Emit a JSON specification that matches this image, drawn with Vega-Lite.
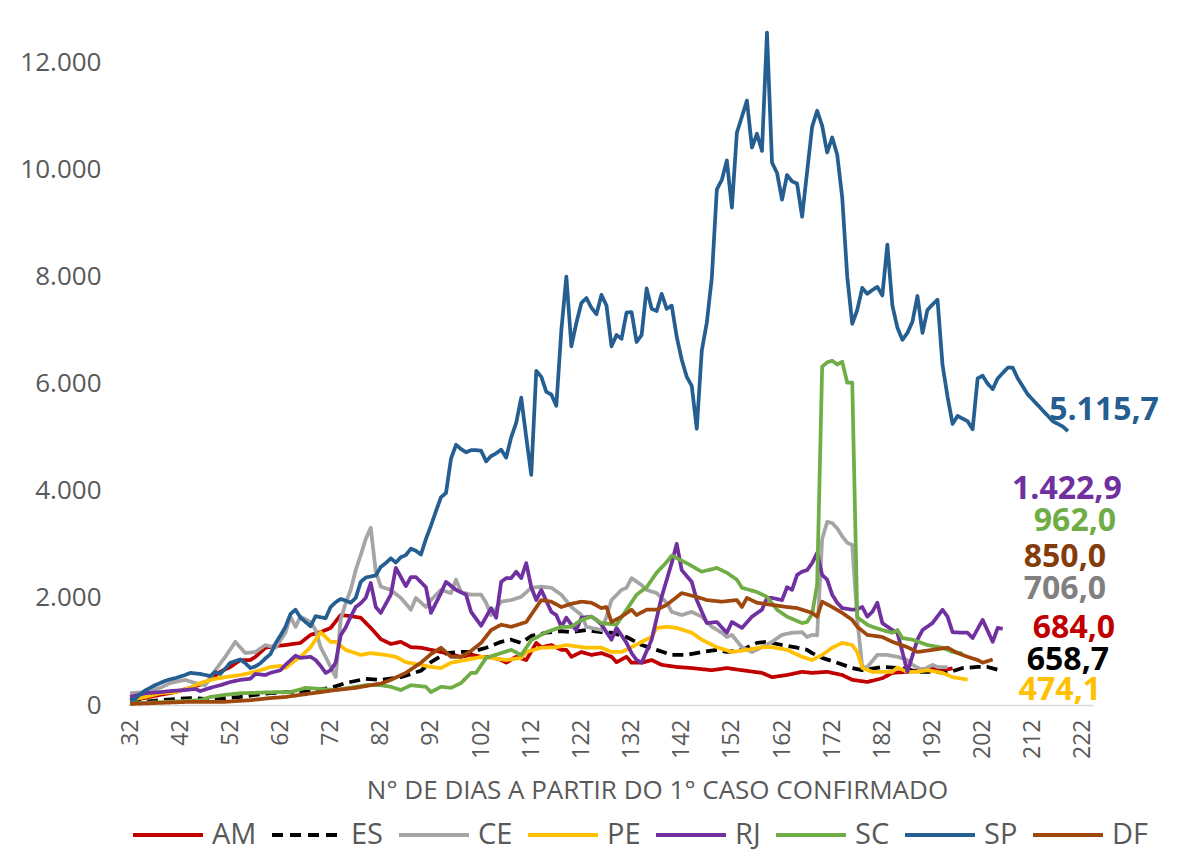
{
"$schema": "https://vega.github.io/schema/vega-lite/v6.json",
"width": 965, "height": 696,
"autosize": {"type": "none"},
"padding": {"left": 128, "top": 9, "right": 93, "bottom": 146},
"background": "white",
"config": {
 "view": {"stroke": null},
 "font": "Open Sans",
 "locale": {"number": {"decimal": ",", "thousands": ".", "grouping": [3], "currency": ["R$", ""]}},
 "legend": {"orient": "none", "legendX": 3, "legendY": 789, "direction": "horizontal", "gridAlign": "none", "symbolType": "stroke", "symbolSize": 4900, "symbolStrokeWidth": 4, "labelFontSize": 29, "labelColor": "#595959", "labelFont": "Open Sans", "labelOffset": 7, "columnPadding": 7, "padding": 0}
},
"datasets": {
"series": [
{"s":"AM","d":32,"v":90},{"s":"AM","d":35,"v":130},{"s":"AM","d":38,"v":190},{"s":"AM","d":41,"v":240},{"s":"AM","d":44,"v":320},{"s":"AM","d":47,"v":410},{"s":"AM","d":50,"v":620},{"s":"AM","d":52,"v":710},{"s":"AM","d":54,"v":840},{"s":"AM","d":56,"v":840},{"s":"AM","d":57,"v":900},{"s":"AM","d":59,"v":1070},{"s":"AM","d":61,"v":1100},{"s":"AM","d":63,"v":1120},{"s":"AM","d":66,"v":1160},{"s":"AM","d":68,"v":1310},{"s":"AM","d":70,"v":1360},{"s":"AM","d":72,"v":1440},{"s":"AM","d":74,"v":1680},{"s":"AM","d":76,"v":1660},{"s":"AM","d":78,"v":1630},{"s":"AM","d":80,"v":1440},{"s":"AM","d":82,"v":1230},{"s":"AM","d":84,"v":1140},{"s":"AM","d":86,"v":1180},{"s":"AM","d":88,"v":1080},{"s":"AM","d":90,"v":1070},{"s":"AM","d":92,"v":1030},{"s":"AM","d":95,"v":970},{"s":"AM","d":98,"v":900},{"s":"AM","d":100,"v":940},{"s":"AM","d":102,"v":900},{"s":"AM","d":104,"v":900},{"s":"AM","d":106,"v":840},{"s":"AM","d":107,"v":790},{"s":"AM","d":109,"v":900},{"s":"AM","d":111,"v":840},{"s":"AM","d":113,"v":1160},{"s":"AM","d":114,"v":1080},{"s":"AM","d":116,"v":1120},{"s":"AM","d":118,"v":1030},{"s":"AM","d":119,"v":1030},{"s":"AM","d":120,"v":900},{"s":"AM","d":122,"v":990},{"s":"AM","d":124,"v":935},{"s":"AM","d":126,"v":970},{"s":"AM","d":128,"v":900},{"s":"AM","d":129,"v":800},{"s":"AM","d":131,"v":900},{"s":"AM","d":132,"v":790},{"s":"AM","d":134,"v":790},{"s":"AM","d":136,"v":840},{"s":"AM","d":138,"v":750},{"s":"AM","d":141,"v":710},{"s":"AM","d":144,"v":690},{"s":"AM","d":148,"v":650},{"s":"AM","d":151,"v":690},{"s":"AM","d":154,"v":650},{"s":"AM","d":158,"v":600},{"s":"AM","d":160,"v":520},{"s":"AM","d":163,"v":560},{"s":"AM","d":166,"v":620},{"s":"AM","d":168,"v":600},{"s":"AM","d":171,"v":620},{"s":"AM","d":174,"v":560},{"s":"AM","d":176,"v":470},{"s":"AM","d":179,"v":430},{"s":"AM","d":182,"v":500},{"s":"AM","d":184,"v":600},{"s":"AM","d":187,"v":620},{"s":"AM","d":189,"v":650},{"s":"AM","d":192,"v":690},{"s":"AM","d":194,"v":650},{"s":"AM","d":196,"v":684},
{"s":"ES","d":32,"v":56},{"s":"ES","d":35,"v":60},{"s":"ES","d":38,"v":90},{"s":"ES","d":41,"v":110},{"s":"ES","d":44,"v":130},{"s":"ES","d":48,"v":110},{"s":"ES","d":51,"v":130},{"s":"ES","d":54,"v":150},{"s":"ES","d":57,"v":190},{"s":"ES","d":60,"v":220},{"s":"ES","d":63,"v":240},{"s":"ES","d":66,"v":240},{"s":"ES","d":69,"v":280},{"s":"ES","d":72,"v":320},{"s":"ES","d":75,"v":410},{"s":"ES","d":79,"v":490},{"s":"ES","d":82,"v":470},{"s":"ES","d":86,"v":520},{"s":"ES","d":90,"v":640},{"s":"ES","d":92,"v":800},{"s":"ES","d":95,"v":970},{"s":"ES","d":98,"v":990},{"s":"ES","d":100,"v":990},{"s":"ES","d":103,"v":1070},{"s":"ES","d":106,"v":1180},{"s":"ES","d":108,"v":1220},{"s":"ES","d":110,"v":1160},{"s":"ES","d":112,"v":1290},{"s":"ES","d":115,"v":1350},{"s":"ES","d":118,"v":1380},{"s":"ES","d":120,"v":1360},{"s":"ES","d":123,"v":1400},{"s":"ES","d":126,"v":1360},{"s":"ES","d":128,"v":1350},{"s":"ES","d":131,"v":1270},{"s":"ES","d":134,"v":1120},{"s":"ES","d":137,"v":1030},{"s":"ES","d":140,"v":935},{"s":"ES","d":143,"v":935},{"s":"ES","d":146,"v":990},{"s":"ES","d":149,"v":1030},{"s":"ES","d":151,"v":990},{"s":"ES","d":154,"v":1030},{"s":"ES","d":157,"v":1160},{"s":"ES","d":159,"v":1180},{"s":"ES","d":162,"v":1120},{"s":"ES","d":165,"v":1070},{"s":"ES","d":167,"v":1030},{"s":"ES","d":168,"v":970},{"s":"ES","d":170,"v":880},{"s":"ES","d":173,"v":790},{"s":"ES","d":176,"v":690},{"s":"ES","d":178,"v":650},{"s":"ES","d":182,"v":710},{"s":"ES","d":186,"v":690},{"s":"ES","d":189,"v":620},{"s":"ES","d":192,"v":620},{"s":"ES","d":195,"v":600},{"s":"ES","d":198,"v":690},{"s":"ES","d":201,"v":710},{"s":"ES","d":203,"v":710},{"s":"ES","d":205,"v":659},
{"s":"CE","d":32,"v":220},{"s":"CE","d":35,"v":240},{"s":"CE","d":38,"v":320},{"s":"CE","d":40,"v":410},{"s":"CE","d":43,"v":470},{"s":"CE","d":45,"v":410},{"s":"CE","d":47,"v":370},{"s":"CE","d":49,"v":650},{"s":"CE","d":51,"v":900},{"s":"CE","d":53,"v":1180},{"s":"CE","d":55,"v":970},{"s":"CE","d":57,"v":990},{"s":"CE","d":59,"v":1120},{"s":"CE","d":61,"v":1070},{"s":"CE","d":63,"v":1350},{"s":"CE","d":64,"v":1650},{"s":"CE","d":65,"v":1460},{"s":"CE","d":66,"v":1650},{"s":"CE","d":68,"v":1550},{"s":"CE","d":69,"v":1400},{"s":"CE","d":70,"v":1080},{"s":"CE","d":71,"v":900},{"s":"CE","d":72,"v":710},{"s":"CE","d":73,"v":520},{"s":"CE","d":74,"v":1600},{"s":"CE","d":75,"v":1900},{"s":"CE","d":76,"v":2150},{"s":"CE","d":77,"v":2520},{"s":"CE","d":78,"v":2800},{"s":"CE","d":79,"v":3100},{"s":"CE","d":80,"v":3310},{"s":"CE","d":81,"v":2490},{"s":"CE","d":82,"v":2210},{"s":"CE","d":84,"v":2150},{"s":"CE","d":86,"v":2000},{"s":"CE","d":88,"v":1780},{"s":"CE","d":89,"v":2000},{"s":"CE","d":91,"v":1830},{"s":"CE","d":92,"v":1960},{"s":"CE","d":94,"v":2150},{"s":"CE","d":96,"v":2090},{"s":"CE","d":97,"v":2340},{"s":"CE","d":98,"v":2110},{"s":"CE","d":100,"v":2060},{"s":"CE","d":102,"v":2060},{"s":"CE","d":103,"v":1910},{"s":"CE","d":104,"v":1680},{"s":"CE","d":106,"v":1930},{"s":"CE","d":108,"v":1960},{"s":"CE","d":110,"v":2020},{"s":"CE","d":112,"v":2190},{"s":"CE","d":114,"v":2210},{"s":"CE","d":116,"v":2190},{"s":"CE","d":118,"v":2060},{"s":"CE","d":120,"v":1830},{"s":"CE","d":122,"v":1680},{"s":"CE","d":123,"v":1460},{"s":"CE","d":126,"v":1400},{"s":"CE","d":127,"v":1650},{"s":"CE","d":128,"v":1960},{"s":"CE","d":130,"v":2150},{"s":"CE","d":131,"v":2190},{"s":"CE","d":132,"v":2370},{"s":"CE","d":134,"v":2240},{"s":"CE","d":135,"v":2150},{"s":"CE","d":137,"v":2090},{"s":"CE","d":139,"v":1910},{"s":"CE","d":140,"v":1740},{"s":"CE","d":142,"v":1680},{"s":"CE","d":144,"v":1740},{"s":"CE","d":146,"v":1650},{"s":"CE","d":148,"v":1460},{"s":"CE","d":150,"v":1350},{"s":"CE","d":151,"v":1270},{"s":"CE","d":152,"v":1310},{"s":"CE","d":154,"v":1080},{"s":"CE","d":156,"v":990},{"s":"CE","d":158,"v":1080},{"s":"CE","d":160,"v":1180},{"s":"CE","d":162,"v":1310},{"s":"CE","d":164,"v":1350},{"s":"CE","d":166,"v":1360},{"s":"CE","d":167,"v":1270},{"s":"CE","d":168,"v":1310},{"s":"CE","d":169,"v":1300},{"s":"CE","d":170,"v":3100},{"s":"CE","d":171,"v":3420},{"s":"CE","d":172,"v":3400},{"s":"CE","d":173,"v":3300},{"s":"CE","d":174,"v":3150},{"s":"CE","d":175,"v":3030},{"s":"CE","d":176,"v":2990},{"s":"CE","d":177,"v":1600},{"s":"CE","d":178,"v":700},{"s":"CE","d":179,"v":710},{"s":"CE","d":181,"v":935},{"s":"CE","d":183,"v":935},{"s":"CE","d":185,"v":900},{"s":"CE","d":187,"v":840},{"s":"CE","d":188,"v":750},{"s":"CE","d":190,"v":650},{"s":"CE","d":192,"v":750},{"s":"CE","d":193,"v":710},{"s":"CE","d":195,"v":706},
{"s":"PE","d":32,"v":90},{"s":"PE","d":35,"v":150},{"s":"PE","d":38,"v":220},{"s":"PE","d":41,"v":240},{"s":"PE","d":44,"v":320},{"s":"PE","d":46,"v":410},{"s":"PE","d":49,"v":490},{"s":"PE","d":51,"v":520},{"s":"PE","d":54,"v":560},{"s":"PE","d":56,"v":600},{"s":"PE","d":58,"v":650},{"s":"PE","d":60,"v":710},{"s":"PE","d":62,"v":730},{"s":"PE","d":63,"v":690},{"s":"PE","d":65,"v":840},{"s":"PE","d":66,"v":900},{"s":"PE","d":68,"v":1080},{"s":"PE","d":70,"v":1360},{"s":"PE","d":72,"v":1180},{"s":"PE","d":73,"v":1180},{"s":"PE","d":75,"v":1030},{"s":"PE","d":78,"v":935},{"s":"PE","d":80,"v":970},{"s":"PE","d":83,"v":935},{"s":"PE","d":85,"v":900},{"s":"PE","d":87,"v":800},{"s":"PE","d":90,"v":750},{"s":"PE","d":92,"v":710},{"s":"PE","d":94,"v":690},{"s":"PE","d":96,"v":790},{"s":"PE","d":100,"v":860},{"s":"PE","d":102,"v":900},{"s":"PE","d":104,"v":880},{"s":"PE","d":107,"v":840},{"s":"PE","d":110,"v":880},{"s":"PE","d":111,"v":990},{"s":"PE","d":114,"v":1070},{"s":"PE","d":117,"v":1080},{"s":"PE","d":119,"v":1120},{"s":"PE","d":123,"v":1070},{"s":"PE","d":126,"v":1070},{"s":"PE","d":128,"v":990},{"s":"PE","d":130,"v":990},{"s":"PE","d":132,"v":1080},{"s":"PE","d":134,"v":1180},{"s":"PE","d":136,"v":1270},{"s":"PE","d":137,"v":1440},{"s":"PE","d":139,"v":1460},{"s":"PE","d":141,"v":1440},{"s":"PE","d":144,"v":1350},{"s":"PE","d":146,"v":1220},{"s":"PE","d":149,"v":1080},{"s":"PE","d":152,"v":990},{"s":"PE","d":155,"v":1030},{"s":"PE","d":158,"v":1080},{"s":"PE","d":160,"v":1080},{"s":"PE","d":163,"v":1030},{"s":"PE","d":166,"v":900},{"s":"PE","d":168,"v":840},{"s":"PE","d":170,"v":935},{"s":"PE","d":172,"v":1070},{"s":"PE","d":174,"v":1160},{"s":"PE","d":176,"v":1120},{"s":"PE","d":177,"v":990},{"s":"PE","d":178,"v":690},{"s":"PE","d":180,"v":620},{"s":"PE","d":182,"v":620},{"s":"PE","d":184,"v":620},{"s":"PE","d":185,"v":700},{"s":"PE","d":187,"v":620},{"s":"PE","d":189,"v":620},{"s":"PE","d":191,"v":650},{"s":"PE","d":194,"v":600},{"s":"PE","d":196,"v":520},{"s":"PE","d":199,"v":474},
{"s":"RJ","d":32,"v":150},{"s":"RJ","d":35,"v":220},{"s":"RJ","d":38,"v":240},{"s":"RJ","d":40,"v":260},{"s":"RJ","d":43,"v":280},{"s":"RJ","d":45,"v":300},{"s":"RJ","d":46,"v":260},{"s":"RJ","d":48,"v":320},{"s":"RJ","d":50,"v":370},{"s":"RJ","d":52,"v":430},{"s":"RJ","d":54,"v":470},{"s":"RJ","d":56,"v":490},{"s":"RJ","d":57,"v":580},{"s":"RJ","d":59,"v":560},{"s":"RJ","d":60,"v":600},{"s":"RJ","d":62,"v":650},{"s":"RJ","d":63,"v":750},{"s":"RJ","d":65,"v":920},{"s":"RJ","d":66,"v":880},{"s":"RJ","d":68,"v":900},{"s":"RJ","d":69,"v":840},{"s":"RJ","d":70,"v":730},{"s":"RJ","d":71,"v":600},{"s":"RJ","d":72,"v":650},{"s":"RJ","d":73,"v":790},{"s":"RJ","d":74,"v":1300},{"s":"RJ","d":75,"v":1450},{"s":"RJ","d":76,"v":1650},{"s":"RJ","d":77,"v":1830},{"s":"RJ","d":78,"v":1900},{"s":"RJ","d":79,"v":2000},{"s":"RJ","d":80,"v":2280},{"s":"RJ","d":81,"v":1830},{"s":"RJ","d":82,"v":1720},{"s":"RJ","d":84,"v":2060},{"s":"RJ","d":85,"v":2560},{"s":"RJ","d":87,"v":2220},{"s":"RJ","d":88,"v":2390},{"s":"RJ","d":89,"v":2390},{"s":"RJ","d":91,"v":2200},{"s":"RJ","d":92,"v":1720},{"s":"RJ","d":94,"v":2090},{"s":"RJ","d":95,"v":2300},{"s":"RJ","d":97,"v":2150},{"s":"RJ","d":99,"v":2060},{"s":"RJ","d":100,"v":1740},{"s":"RJ","d":102,"v":1480},{"s":"RJ","d":104,"v":1810},{"s":"RJ","d":105,"v":1630},{"s":"RJ","d":106,"v":2300},{"s":"RJ","d":107,"v":2370},{"s":"RJ","d":108,"v":2370},{"s":"RJ","d":109,"v":2490},{"s":"RJ","d":110,"v":2370},{"s":"RJ","d":111,"v":2650},{"s":"RJ","d":112,"v":2200},{"s":"RJ","d":113,"v":1960},{"s":"RJ","d":114,"v":2150},{"s":"RJ","d":116,"v":1740},{"s":"RJ","d":117,"v":1680},{"s":"RJ","d":118,"v":1460},{"s":"RJ","d":119,"v":1630},{"s":"RJ","d":120,"v":1500},{"s":"RJ","d":121,"v":1400},{"s":"RJ","d":122,"v":1630},{"s":"RJ","d":124,"v":1650},{"s":"RJ","d":125,"v":1590},{"s":"RJ","d":126,"v":1500},{"s":"RJ","d":127,"v":1360},{"s":"RJ","d":128,"v":1220},{"s":"RJ","d":129,"v":1440},{"s":"RJ","d":131,"v":1160},{"s":"RJ","d":132,"v":970},{"s":"RJ","d":133,"v":840},{"s":"RJ","d":134,"v":790},{"s":"RJ","d":136,"v":1220},{"s":"RJ","d":138,"v":2020},{"s":"RJ","d":140,"v":2650},{"s":"RJ","d":141,"v":3010},{"s":"RJ","d":142,"v":2520},{"s":"RJ","d":144,"v":2300},{"s":"RJ","d":145,"v":1960},{"s":"RJ","d":147,"v":1530},{"s":"RJ","d":149,"v":1550},{"s":"RJ","d":151,"v":1350},{"s":"RJ","d":152,"v":1550},{"s":"RJ","d":154,"v":1440},{"s":"RJ","d":156,"v":1650},{"s":"RJ","d":158,"v":1780},{"s":"RJ","d":159,"v":2000},{"s":"RJ","d":160,"v":2000},{"s":"RJ","d":162,"v":1960},{"s":"RJ","d":163,"v":2200},{"s":"RJ","d":164,"v":2150},{"s":"RJ","d":165,"v":2430},{"s":"RJ","d":166,"v":2490},{"s":"RJ","d":167,"v":2520},{"s":"RJ","d":168,"v":2650},{"s":"RJ","d":169,"v":2840},{"s":"RJ","d":170,"v":2430},{"s":"RJ","d":171,"v":2340},{"s":"RJ","d":172,"v":2060},{"s":"RJ","d":173,"v":1910},{"s":"RJ","d":174,"v":1810},{"s":"RJ","d":176,"v":1780},{"s":"RJ","d":177,"v":1790},{"s":"RJ","d":178,"v":1830},{"s":"RJ","d":179,"v":1650},{"s":"RJ","d":180,"v":1740},{"s":"RJ","d":181,"v":1910},{"s":"RJ","d":182,"v":1530},{"s":"RJ","d":184,"v":1400},{"s":"RJ","d":185,"v":1350},{"s":"RJ","d":186,"v":990},{"s":"RJ","d":187,"v":620},{"s":"RJ","d":189,"v":1220},{"s":"RJ","d":190,"v":1400},{"s":"RJ","d":192,"v":1530},{"s":"RJ","d":194,"v":1780},{"s":"RJ","d":195,"v":1650},{"s":"RJ","d":196,"v":1360},{"s":"RJ","d":198,"v":1350},{"s":"RJ","d":199,"v":1350},{"s":"RJ","d":200,"v":1250},{"s":"RJ","d":202,"v":1590},{"s":"RJ","d":204,"v":1180},{"s":"RJ","d":205,"v":1440},{"s":"RJ","d":206,"v":1423},
{"s":"SC","d":32,"v":30},{"s":"SC","d":40,"v":60},{"s":"SC","d":46,"v":90},{"s":"SC","d":48,"v":150},{"s":"SC","d":51,"v":190},{"s":"SC","d":54,"v":220},{"s":"SC","d":61,"v":240},{"s":"SC","d":64,"v":240},{"s":"SC","d":67,"v":320},{"s":"SC","d":70,"v":300},{"s":"SC","d":73,"v":280},{"s":"SC","d":77,"v":340},{"s":"SC","d":79,"v":370},{"s":"SC","d":82,"v":370},{"s":"SC","d":84,"v":340},{"s":"SC","d":86,"v":280},{"s":"SC","d":88,"v":370},{"s":"SC","d":91,"v":340},{"s":"SC","d":92,"v":240},{"s":"SC","d":94,"v":340},{"s":"SC","d":96,"v":320},{"s":"SC","d":98,"v":410},{"s":"SC","d":100,"v":600},{"s":"SC","d":101,"v":600},{"s":"SC","d":103,"v":880},{"s":"SC","d":106,"v":970},{"s":"SC","d":108,"v":1030},{"s":"SC","d":110,"v":935},{"s":"SC","d":111,"v":1070},{"s":"SC","d":112,"v":1210},{"s":"SC","d":115,"v":1360},{"s":"SC","d":118,"v":1460},{"s":"SC","d":120,"v":1460},{"s":"SC","d":122,"v":1590},{"s":"SC","d":124,"v":1650},{"s":"SC","d":126,"v":1530},{"s":"SC","d":129,"v":1500},{"s":"SC","d":131,"v":1780},{"s":"SC","d":133,"v":2060},{"s":"SC","d":135,"v":2200},{"s":"SC","d":137,"v":2470},{"s":"SC","d":139,"v":2670},{"s":"SC","d":140,"v":2790},{"s":"SC","d":143,"v":2650},{"s":"SC","d":146,"v":2490},{"s":"SC","d":149,"v":2560},{"s":"SC","d":151,"v":2470},{"s":"SC","d":153,"v":2340},{"s":"SC","d":154,"v":2190},{"s":"SC","d":157,"v":2110},{"s":"SC","d":159,"v":2020},{"s":"SC","d":161,"v":1780},{"s":"SC","d":163,"v":1650},{"s":"SC","d":166,"v":1530},{"s":"SC","d":167,"v":1550},{"s":"SC","d":168,"v":1700},{"s":"SC","d":169,"v":2250},{"s":"SC","d":170,"v":6320},{"s":"SC","d":171,"v":6400},{"s":"SC","d":172,"v":6430},{"s":"SC","d":173,"v":6360},{"s":"SC","d":174,"v":6410},{"s":"SC","d":175,"v":6020},{"s":"SC","d":176,"v":6020},{"s":"SC","d":177,"v":1640},{"s":"SC","d":179,"v":1500},{"s":"SC","d":180,"v":1460},{"s":"SC","d":182,"v":1400},{"s":"SC","d":184,"v":1350},{"s":"SC","d":185,"v":1400},{"s":"SC","d":186,"v":1250},{"s":"SC","d":188,"v":1220},{"s":"SC","d":191,"v":1120},{"s":"SC","d":194,"v":1070},{"s":"SC","d":196,"v":990},{"s":"SC","d":198,"v":962},
{"s":"SP","d":32,"v":90},{"s":"SP","d":33,"v":110},{"s":"SP","d":34,"v":200},{"s":"SP","d":35,"v":270},{"s":"SP","d":36,"v":320},{"s":"SP","d":37,"v":370},{"s":"SP","d":38,"v":410},{"s":"SP","d":39,"v":450},{"s":"SP","d":40,"v":480},{"s":"SP","d":41,"v":500},{"s":"SP","d":42,"v":530},{"s":"SP","d":43,"v":560},{"s":"SP","d":44,"v":600},{"s":"SP","d":45,"v":590},{"s":"SP","d":46,"v":580},{"s":"SP","d":47,"v":560},{"s":"SP","d":48,"v":540},{"s":"SP","d":49,"v":620},{"s":"SP","d":50,"v":580},{"s":"SP","d":51,"v":680},{"s":"SP","d":52,"v":790},{"s":"SP","d":53,"v":820},{"s":"SP","d":54,"v":850},{"s":"SP","d":55,"v":780},{"s":"SP","d":56,"v":690},{"s":"SP","d":57,"v":720},{"s":"SP","d":58,"v":780},{"s":"SP","d":59,"v":870},{"s":"SP","d":60,"v":950},{"s":"SP","d":61,"v":1150},{"s":"SP","d":62,"v":1300},{"s":"SP","d":63,"v":1460},{"s":"SP","d":64,"v":1700},{"s":"SP","d":65,"v":1780},{"s":"SP","d":66,"v":1630},{"s":"SP","d":67,"v":1550},{"s":"SP","d":68,"v":1470},{"s":"SP","d":69,"v":1660},{"s":"SP","d":70,"v":1640},{"s":"SP","d":71,"v":1620},{"s":"SP","d":72,"v":1830},{"s":"SP","d":73,"v":1920},{"s":"SP","d":74,"v":1980},{"s":"SP","d":75,"v":1950},{"s":"SP","d":76,"v":1910},{"s":"SP","d":77,"v":2000},{"s":"SP","d":78,"v":2300},{"s":"SP","d":79,"v":2380},{"s":"SP","d":80,"v":2400},{"s":"SP","d":81,"v":2420},{"s":"SP","d":82,"v":2580},{"s":"SP","d":83,"v":2650},{"s":"SP","d":84,"v":2740},{"s":"SP","d":85,"v":2660},{"s":"SP","d":86,"v":2760},{"s":"SP","d":87,"v":2800},{"s":"SP","d":88,"v":2920},{"s":"SP","d":89,"v":2880},{"s":"SP","d":90,"v":2810},{"s":"SP","d":91,"v":3100},{"s":"SP","d":92,"v":3350},{"s":"SP","d":93,"v":3620},{"s":"SP","d":94,"v":3880},{"s":"SP","d":95,"v":3960},{"s":"SP","d":96,"v":4600},{"s":"SP","d":97,"v":4860},{"s":"SP","d":98,"v":4780},{"s":"SP","d":99,"v":4720},{"s":"SP","d":100,"v":4760},{"s":"SP","d":101,"v":4760},{"s":"SP","d":102,"v":4750},{"s":"SP","d":103,"v":4550},{"s":"SP","d":104,"v":4650},{"s":"SP","d":105,"v":4700},{"s":"SP","d":106,"v":4770},{"s":"SP","d":107,"v":4620},{"s":"SP","d":108,"v":5000},{"s":"SP","d":109,"v":5270},{"s":"SP","d":110,"v":5740},{"s":"SP","d":111,"v":5000},{"s":"SP","d":112,"v":4300},{"s":"SP","d":113,"v":6240},{"s":"SP","d":114,"v":6130},{"s":"SP","d":115,"v":5850},{"s":"SP","d":116,"v":5800},{"s":"SP","d":117,"v":5590},{"s":"SP","d":118,"v":7000},{"s":"SP","d":119,"v":8000},{"s":"SP","d":120,"v":6700},{"s":"SP","d":121,"v":7140},{"s":"SP","d":122,"v":7510},{"s":"SP","d":123,"v":7600},{"s":"SP","d":124,"v":7420},{"s":"SP","d":125,"v":7300},{"s":"SP","d":126,"v":7660},{"s":"SP","d":127,"v":7460},{"s":"SP","d":128,"v":6700},{"s":"SP","d":129,"v":6910},{"s":"SP","d":130,"v":6840},{"s":"SP","d":131,"v":7330},{"s":"SP","d":132,"v":7340},{"s":"SP","d":133,"v":6780},{"s":"SP","d":134,"v":6910},{"s":"SP","d":135,"v":7780},{"s":"SP","d":136,"v":7400},{"s":"SP","d":137,"v":7360},{"s":"SP","d":138,"v":7680},{"s":"SP","d":139,"v":7400},{"s":"SP","d":140,"v":7460},{"s":"SP","d":141,"v":6880},{"s":"SP","d":142,"v":6450},{"s":"SP","d":143,"v":6130},{"s":"SP","d":144,"v":5960},{"s":"SP","d":145,"v":5160},{"s":"SP","d":146,"v":6620},{"s":"SP","d":147,"v":7140},{"s":"SP","d":148,"v":7980},{"s":"SP","d":149,"v":9630},{"s":"SP","d":150,"v":9810},{"s":"SP","d":151,"v":10170},{"s":"SP","d":152,"v":9290},{"s":"SP","d":153,"v":10690},{"s":"SP","d":154,"v":10990},{"s":"SP","d":155,"v":11290},{"s":"SP","d":156,"v":10410},{"s":"SP","d":157,"v":10670},{"s":"SP","d":158,"v":10350},{"s":"SP","d":159,"v":12560},{"s":"SP","d":160,"v":10130},{"s":"SP","d":161,"v":9940},{"s":"SP","d":162,"v":9440},{"s":"SP","d":163,"v":9900},{"s":"SP","d":164,"v":9780},{"s":"SP","d":165,"v":9740},{"s":"SP","d":166,"v":9120},{"s":"SP","d":167,"v":9960},{"s":"SP","d":168,"v":10800},{"s":"SP","d":169,"v":11100},{"s":"SP","d":170,"v":10820},{"s":"SP","d":171,"v":10320},{"s":"SP","d":172,"v":10600},{"s":"SP","d":173,"v":10280},{"s":"SP","d":174,"v":9480},{"s":"SP","d":175,"v":8000},{"s":"SP","d":176,"v":7120},{"s":"SP","d":177,"v":7380},{"s":"SP","d":178,"v":7790},{"s":"SP","d":179,"v":7680},{"s":"SP","d":180,"v":7750},{"s":"SP","d":181,"v":7810},{"s":"SP","d":182,"v":7650},{"s":"SP","d":183,"v":8600},{"s":"SP","d":184,"v":7460},{"s":"SP","d":185,"v":7050},{"s":"SP","d":186,"v":6820},{"s":"SP","d":187,"v":6950},{"s":"SP","d":188,"v":7160},{"s":"SP","d":189,"v":7640},{"s":"SP","d":190,"v":6950},{"s":"SP","d":191,"v":7380},{"s":"SP","d":192,"v":7480},{"s":"SP","d":193,"v":7570},{"s":"SP","d":194,"v":6350},{"s":"SP","d":195,"v":5760},{"s":"SP","d":196,"v":5250},{"s":"SP","d":197,"v":5400},{"s":"SP","d":198,"v":5350},{"s":"SP","d":199,"v":5300},{"s":"SP","d":200,"v":5150},{"s":"SP","d":201,"v":6100},{"s":"SP","d":202,"v":6150},{"s":"SP","d":203,"v":6000},{"s":"SP","d":204,"v":5900},{"s":"SP","d":205,"v":6100},{"s":"SP","d":206,"v":6200},{"s":"SP","d":207,"v":6300},{"s":"SP","d":208,"v":6300},{"s":"SP","d":209,"v":6100},{"s":"SP","d":210,"v":5950},{"s":"SP","d":211,"v":5800},{"s":"SP","d":212,"v":5700},{"s":"SP","d":213,"v":5600},{"s":"SP","d":214,"v":5500},{"s":"SP","d":215,"v":5400},{"s":"SP","d":216,"v":5300},{"s":"SP","d":217,"v":5250},{"s":"SP","d":218,"v":5200},{"s":"SP","d":219,"v":5116},
{"s":"DF","d":32,"v":20},{"s":"DF","d":38,"v":40},{"s":"DF","d":44,"v":60},{"s":"DF","d":51,"v":60},{"s":"DF","d":56,"v":90},{"s":"DF","d":60,"v":130},{"s":"DF","d":63,"v":150},{"s":"DF","d":66,"v":190},{"s":"DF","d":70,"v":240},{"s":"DF","d":73,"v":280},{"s":"DF","d":77,"v":320},{"s":"DF","d":80,"v":370},{"s":"DF","d":82,"v":400},{"s":"DF","d":84,"v":470},{"s":"DF","d":87,"v":600},{"s":"DF","d":90,"v":790},{"s":"DF","d":92,"v":950},{"s":"DF","d":94,"v":1070},{"s":"DF","d":96,"v":900},{"s":"DF","d":98,"v":900},{"s":"DF","d":100,"v":1010},{"s":"DF","d":102,"v":1160},{"s":"DF","d":104,"v":1400},{"s":"DF","d":106,"v":1500},{"s":"DF","d":108,"v":1460},{"s":"DF","d":111,"v":1550},{"s":"DF","d":114,"v":1960},{"s":"DF","d":116,"v":1930},{"s":"DF","d":118,"v":1830},{"s":"DF","d":120,"v":1890},{"s":"DF","d":122,"v":1930},{"s":"DF","d":124,"v":1910},{"s":"DF","d":126,"v":1810},{"s":"DF","d":127,"v":1830},{"s":"DF","d":128,"v":1550},{"s":"DF","d":130,"v":1650},{"s":"DF","d":132,"v":1780},{"s":"DF","d":133,"v":1680},{"s":"DF","d":135,"v":1780},{"s":"DF","d":137,"v":1780},{"s":"DF","d":139,"v":1870},{"s":"DF","d":142,"v":2090},{"s":"DF","d":145,"v":2020},{"s":"DF","d":147,"v":1960},{"s":"DF","d":150,"v":1930},{"s":"DF","d":153,"v":1960},{"s":"DF","d":154,"v":1830},{"s":"DF","d":155,"v":2000},{"s":"DF","d":157,"v":1910},{"s":"DF","d":160,"v":1870},{"s":"DF","d":163,"v":1830},{"s":"DF","d":165,"v":1810},{"s":"DF","d":168,"v":1720},{"s":"DF","d":169,"v":1650},{"s":"DF","d":170,"v":1930},{"s":"DF","d":172,"v":1830},{"s":"DF","d":174,"v":1720},{"s":"DF","d":176,"v":1590},{"s":"DF","d":177,"v":1460},{"s":"DF","d":179,"v":1310},{"s":"DF","d":182,"v":1270},{"s":"DF","d":184,"v":1180},{"s":"DF","d":187,"v":1080},{"s":"DF","d":189,"v":990},{"s":"DF","d":192,"v":1030},{"s":"DF","d":195,"v":1070},{"s":"DF","d":197,"v":970},{"s":"DF","d":199,"v":900},{"s":"DF","d":201,"v":840},{"s":"DF","d":202,"v":790},{"s":"DF","d":204,"v":850}
],
"labels": [
{"s":"SP","v":5115.7,"lx":226.2,"ly":5510},
{"s":"RJ","v":1422.9,"lx":218.8,"ly":4040},
{"s":"SC","v":962.0,"lx":220.4,"ly":3440},
{"s":"DF","v":850.0,"lx":218.4,"ly":2770},
{"s":"CE","v":706.0,"lx":218.4,"ly":2170},
{"s":"AM","v":684.0,"lx":220.2,"ly":1440},
{"s":"ES","v":658.7,"lx":219.0,"ly":840},
{"s":"PE","v":474.1,"lx":217.4,"ly":280}
]
},
"layer": [
{
 "data": {"name": "series"},
 "mark": {"type": "line", "strokeWidth": 3.75, "strokeJoin": "round"},
 "encoding": {
  "x": {"field": "d", "type": "quantitative",
   "scale": {"domain": [31.6, 224], "nice": false, "zero": false},
   "axis": {"title": "N° DE DIAS A PARTIR DO 1° CASO CONFIRMADO", "values": [32,42,52,62,72,82,92,102,112,122,132,142,152,162,172,182,192,202,212,222], "format": "d", "labelAngle": -90, "labelFontSize": 23, "labelColor": "#595959", "labelPadding": 14, "labelFlush": false, "labelOverlap": false, "ticks": false, "grid": false, "domainColor": "#D9D9D9", "domainWidth": 1.5, "titleFontSize": 26, "titleFontWeight": "normal", "titleColor": "#595959", "titleX": 529, "titleY": 85, "titleAlign": "center", "titleBaseline": "middle"}},
  "y": {"field": "v", "type": "quantitative",
   "scale": {"domain": [0, 13000], "nice": false},
   "axis": {"title": null, "values": [0,2000,4000,6000,8000,10000,12000], "format": ",.0f", "domain": false, "ticks": false, "grid": false, "labelFontSize": 26, "labelColor": "#595959", "labelPadding": 27}},
  "color": {"field": "s", "type": "nominal",
   "scale": {"domain": ["AM","ES","CE","PE","RJ","SC","SP","DF"], "range": ["#C00000","#000000","#A5A5A5","#FFC000","#7030A0","#70AD47","#255E91","#9E480E"]},
   "legend": {"title": null, "encode": {"symbols": {"update": {"strokeDash": {"signal": "datum.value === 'ES' ? [11,7] : [1,0]"}}}}}},
  "strokeDash": {"field": "s", "type": "nominal",
   "scale": {"domain": ["AM","ES","CE","PE","RJ","SC","SP","DF"], "range": [[1,0],[11,6],[1,0],[1,0],[1,0],[1,0],[1,0],[1,0]]},
   "legend": null}
 }
},
{
 "data": {"name": "labels"},
 "mark": {"type": "text", "fontWeight": "bold", "fontSize": 32, "align": "center", "baseline": "middle", "font": "Open Sans"},
 "encoding": {
  "x": {"field": "lx", "type": "quantitative"},
  "y": {"field": "ly", "type": "quantitative"},
  "text": {"field": "v", "type": "quantitative", "format": ",.1f"},
  "color": {"field": "s", "type": "nominal",
   "scale": {"domain": ["AM","ES","CE","PE","RJ","SC","SP","DF"], "range": ["#C00000","#000000","#808080","#FFC000","#7030A0","#70AD47","#255E91","#843C0C"]},
   "legend": null}
 }
}
],
"resolve": {"scale": {"color": "independent"}}
}
